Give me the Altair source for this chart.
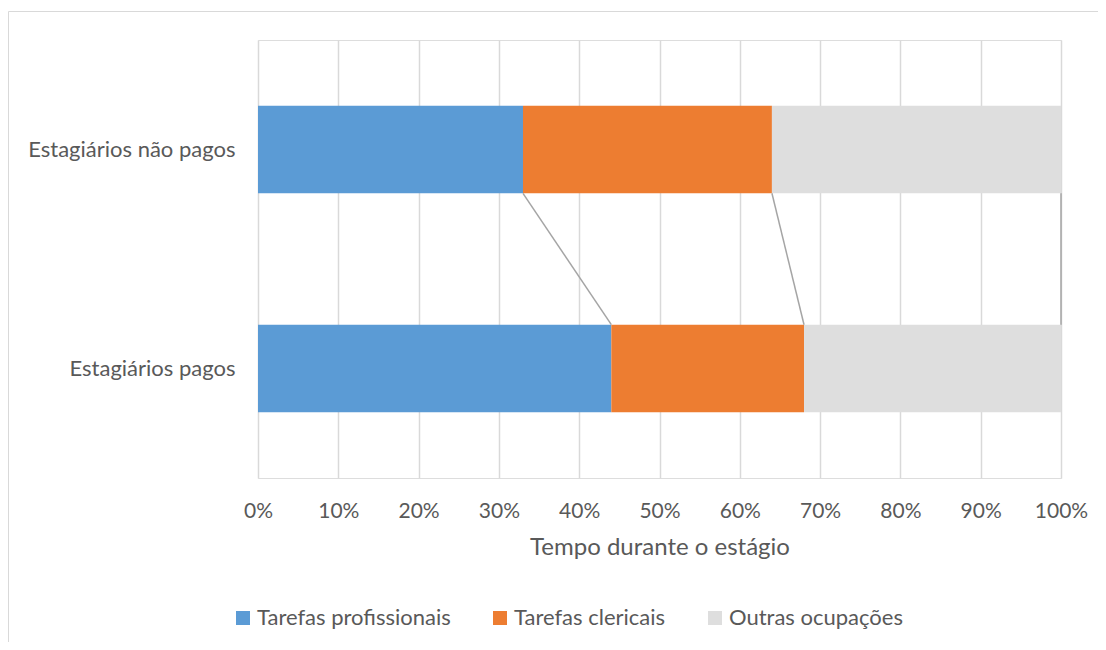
import altair as alt
import pandas as pd

categories = ["Estagiários não pagos", "Estagiários pagos"]
series = ["Tarefas profissionais", "Tarefas clericais", "Outras ocupações"]
unpaid = [0.33, 0.31, 0.36]
paid = [0.44, 0.24, 0.32]
colors = ["#5B9BD5", "#ED7D31", "#DEDEDE"]
x_ticks = [0, 0.1, 0.2, 0.3, 0.4, 0.5, 0.6, 0.7, 0.8, 0.9, 1.0]

FONT = "Lato"
TXT = "#595959"

rows = []
for cat, vals in zip(categories, [unpaid, paid]):
    start = 0.0
    for i, (s, v) in enumerate(zip(series, vals)):
        rows.append({"cat": cat, "serie": s, "start": start, "end": start + v, "ord": i})
        start += v
bars_df = pd.DataFrame(rows)

cu = pd.Series(unpaid).cumsum().tolist()
cp = pd.Series(paid).cumsum().tolist()
conn_df = pd.DataFrame({
    "x1": cu, "x2": cp,
    "from": [categories[0]] * 3, "to": [categories[1]] * 3,
})

yscale = alt.Scale(domain=categories, paddingInner=0.6, paddingOuter=0.3)
xscale = alt.Scale(domain=[0, 1], nice=False)

bars = alt.Chart(bars_df).mark_bar(strokeWidth=0).encode(
    y=alt.Y("cat:N", scale=yscale, sort=categories,
            axis=alt.Axis(title=None, ticks=False, domain=False, grid=False,
                          labelFontSize=22, labelColor=TXT, labelFont=FONT,
                          labelPadding=23, labelLimit=400)),
    x=alt.X("start:Q", scale=xscale,
            axis=alt.Axis(values=x_ticks, format=".0%", ticks=False, domain=False,
                          grid=True, gridColor="#D9D9D9", gridWidth=1.5,
                          labelFontSize=21, labelColor=TXT, labelFont=FONT,
                          labelPadding=22, labelFlush=False,
                          title="Tempo durante o estágio", titleFontSize=24,
                          titleFontWeight="normal", titleColor=TXT, titleFont=FONT,
                          titleY=57, titleBaseline="top")),
    x2="end:Q",
    color=alt.Color("serie:N", scale=alt.Scale(domain=series, range=colors),
                    legend=alt.Legend(title=None, orient="none", legendX=-26, legendY=567,
                                      direction="horizontal", symbolType="square",
                                      symbolSize=196, symbolStrokeWidth=0,
                                      labelFontSize=22, labelColor=TXT, labelFont=FONT,
                                      labelLimit=400,
                                      columnPadding=38, labelOffset=3, padding=0)),
    order=alt.Order("ord:Q"),
)

conn = alt.Chart(conn_df).mark_rule(color="#A5A5A5", strokeWidth=1.5).encode(
    x=alt.X("x1:Q", scale=xscale),
    x2="x2:Q",
    y=alt.Y("from:N", scale=yscale, bandPosition=1),
    y2=alt.Y2("to:N", bandPosition=0),
)

frame_df = pd.DataFrame({"k": [0]})
frame = alt.Chart(frame_df).mark_rect(fillOpacity=0, stroke="#D9D9D9", strokeWidth=1).encode(
    x=alt.value(-249.5), x2=alt.value(900), y=alt.value(-28.5), y2=alt.value(700)
)

chart = alt.layer(frame, bars, conn).properties(
    width=803, height=438,
    autosize=alt.AutoSizeParams(type="none"),
    padding={"left": 250, "top": 32, "right": 37, "bottom": 164},
    background="white",
).configure_view(strokeWidth=0).configure(font=FONT)

chart.save("out.html", embed_options={"renderer": "svg", "actions": False})
